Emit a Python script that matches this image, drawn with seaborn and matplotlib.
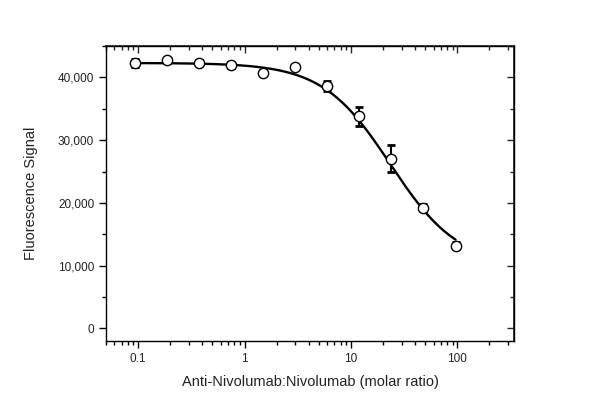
import numpy as np
import pandas as pd
import matplotlib
matplotlib.use("Agg")
import matplotlib.pyplot as plt
from matplotlib.ticker import FuncFormatter, MultipleLocator, LogLocator, NullFormatter
import seaborn as sns

# ---- data ----
ratio = [0.09375, 0.1875, 0.375, 0.75, 1.5, 3, 6, 12, 24, 48, 96]
signal = [42250, 42750, 42350, 41950, 40750, 41600, 38600, 33800, 27050, 19250, 13200]
sd = [600, 350, 350, 450, 450, 300, 750, 1550, 2100, 500, 500]
# 4-parameter logistic fit parameters
fit_top = 42300
fit_bottom = 10000
fit_ec50 = 23.5
fit_hill = 1.36

sns.set_theme(style="ticks")
plt.rcParams['font.family'] = ['Liberation Sans', 'DejaVu Sans']

fig = plt.figure(figsize=(6, 4.12), dpi=100)
ax = fig.add_axes([106/600, 1-341/412, (514-106)/600, (341-46)/412])

df = pd.DataFrame({"ratio": ratio, "signal": signal, "sd": sd})
xs = np.logspace(np.log10(ratio[0]), np.log10(ratio[-1]), 300)
fit = pd.DataFrame({"x": xs, "y": fit_bottom + (fit_top - fit_bottom) / (1 + (xs / fit_ec50) ** fit_hill)})

sns.lineplot(data=fit, x="x", y="y", color="black", linewidth=1.7, ax=ax, zorder=2)
ax.errorbar(df["ratio"], df["signal"], yerr=df["sd"], fmt="none", ecolor="black",
            elinewidth=1.5, capsize=2.8, capthick=2.0, zorder=3)
sns.scatterplot(data=df, x="ratio", y="signal", marker="o", s=55, facecolor="white",
                edgecolor="black", linewidth=1.0, ax=ax, zorder=4)

ax.set_xscale("log")
ax.set_xlim(0.05, 340)
ax.set_ylim(-2000, 45000)
ax.yaxis.set_major_locator(MultipleLocator(10000))
ax.yaxis.set_minor_locator(MultipleLocator(5000))
ax.yaxis.set_major_formatter(FuncFormatter(lambda v, p: f"{int(v):,}"))
ax.xaxis.set_major_locator(LogLocator(base=10))
ax.xaxis.set_minor_locator(LogLocator(base=10, subs=np.arange(2, 10)))
ax.xaxis.set_minor_formatter(NullFormatter())
ax.xaxis.set_major_formatter(FuncFormatter(lambda v, p: f"{v:g}"))

for s in ax.spines.values():
    s.set_visible(True)
    s.set_linewidth(1.0)
    s.set_color("black")

ax.tick_params(which="major", direction="out", length=5, width=1, colors="black",
               labelsize=8.5, labelcolor="#222222")
ax.tick_params(which="minor", direction="out", length=3, width=1, colors="black")

# inward ticks on top and right
top = ax.secondary_xaxis("top")
top.set_xscale("log")
top.xaxis.set_major_locator(LogLocator(base=10))
top.xaxis.set_minor_locator(LogLocator(base=10, subs=np.arange(2, 10)))
top.xaxis.set_major_formatter(NullFormatter())
top.xaxis.set_minor_formatter(NullFormatter())
top.tick_params(which="major", direction="in", length=5, width=1)
top.tick_params(which="minor", direction="in", length=3, width=1)
right = ax.secondary_yaxis("right")
right.yaxis.set_major_locator(MultipleLocator(10000))
right.yaxis.set_minor_locator(MultipleLocator(5000))
right.yaxis.set_major_formatter(NullFormatter())
right.tick_params(which="major", direction="in", length=5, width=1)
right.tick_params(which="minor", direction="in", length=3, width=1)

ax.set_xlabel("Anti-Nivolumab:Nivolumab (molar ratio)", fontsize=10.5, color="#222222", labelpad=7)
ax.set_ylabel("Fluorescence Signal", fontsize=10.5, color="#222222", labelpad=14)

fig.savefig("out.png", dpi=100, facecolor="white")
